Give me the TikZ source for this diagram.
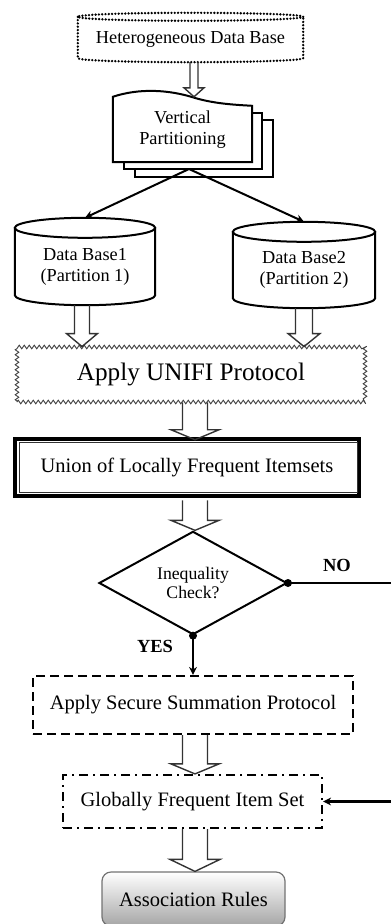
\documentclass[tikz,border=0pt]{standalone}
\usepackage{fontspec}
\setmainfont{Liberation Serif}
\usetikzlibrary{arrows.meta}
\usetikzlibrary{calc}
\usetikzlibrary{shapes.geometric}
\usetikzlibrary{decorations.pathmorphing}
\usetikzlibrary{backgrounds}

% cylinder outline round a named node: node, lid radius
\newcommand{\drum}[3][]{%
  \draw[#1] let \p1=(#2.north west), \p2=(#2.south east), \n1={(\x2-\x1)/2} in
    ({(\x1+\x2)/2},{\y1+#3pt}) ellipse [x radius=\n1, y radius=#3pt]
    (\x1,{\y1+#3pt}) -- (\x1,\y2) arc [start angle=180, end angle=360, x radius=\n1, y radius=#3pt]
    -- (\x2,{\y1+#3pt});
}
% hollow block arrow: x, from, to, shaft half width, head half width, head length
\newcommand{\fatarrow}[6]{%
  \draw[fat] let \p1=#2, \p2=#3 in
    ({#1pt-#4pt},\y1) -- ({#1pt-#4pt},{\y2+#6pt}) -- ({#1pt-#5pt},{\y2+#6pt}) -- (#1pt,\y2)
    -- ({#1pt+#5pt},{\y2+#6pt}) -- ({#1pt+#4pt},{\y2+#6pt}) -- ({#1pt+#4pt},\y1);
}

\tikzset{
  lbl/.style={font=\fontsize{18.3}{21}\selectfont, align=center, inner sep=0pt},
  wide/.style={font=\fontsize{20.5}{24}\selectfont, align=center, inner sep=0pt},
  hetline/.style={line width=2.6pt, dash pattern=on 0pt off 3.3pt, line cap=round},
  dbline/.style={line width=2pt},
  doc/.style={draw, fill=white, line width=2pt},
  flow/.style={line width=2pt, -{Stealth[length=8pt,width=8pt]}},
  fat/.style={draw=black!80, line width=1.4pt},
  zig/.style={draw=black!75, line width=0.9pt, decorate,
    decoration={zigzag, segment length=5pt, amplitude=1.8pt},
    font=\fontsize{25.2}{28}\selectfont, inner sep=0pt},
  unionbox/.style={wide, draw, line width=4.5pt, minimum width=344, minimum height=57},
  check/.style={diamond, draw, line width=2pt, minimum width=188, minimum height=92,
    inner sep=0pt, font=\fontsize{17.7}{19}\selectfont, align=center},
  dashbox/.style={wide, draw, line width=2.2pt, dash pattern=on 9pt off 5pt},
  dotdashbox/.style={wide, draw, line width=2.2pt, dash pattern=on 9pt off 5pt on 2pt off 5pt},
  rulebox/.style={wide, draw=black!55, line width=1.2pt, rounded corners=9pt,
    top color=white, bottom color=black!35},
  yn/.style={font=\bfseries\fontsize{18.5}{20}\selectfont, inner sep=0pt},
}

\begin{document}
\begin{tikzpicture}[x=1pt, y=-1pt]
    \useasboundingbox (0,0) rectangle (391,924);
    \clip (0,0) rectangle (391,924);

    % source data base
    \node[lbl, minimum width=225, minimum height=37] (het) at (190.5,39.5) {Heterogeneous Data Base};
    \drum[hetline]{het}{4}

    % vertical partitioning (stacked documents)
    \node[lbl, minimum width=139, minimum height=65] (vp) at (182.5,129.5) {Vertical\\Partitioning};
    \begin{scope}[on background layer]
        \draw[doc] ($(vp.north west)+(22,23)$) rectangle ($(vp.south east)+(21,15)$);
        \draw[doc] ($(vp.north west)+(11,16)$) rectangle ($(vp.south east)+(10,7)$);
        \draw[doc] (vp.north west) .. controls +(27,-9) and +(-25,-8) .. ($(vp.north)+(12,1)$)
            .. controls +(20,6) and +(-17,-1) .. ($(vp.north east)+(0,9)$)
            -- (vp.south east) -- (vp.south west) -- cycle;
    \end{scope}
    \fatarrow{194}{($(het.south)+(0,4)$)}{(vp.north)}{4}{10}{9}

    % partitions
    \node[lbl, minimum width=140, minimum height=57] (db1) at (85,266.5) {Data Base1\\(Partition 1)};
    \drum[dbline]{db1}{10}
    \node[lbl, minimum width=142, minimum height=56] (db2) at (304,270) {Data Base2\\(Partition 2)};
    \drum[dbline]{db2}{10}
    \coordinate (vpfoot) at (189,169);
    \draw[flow] (vpfoot) -- ($(db1.north)+(0,-20)$);
    \draw[flow] (vpfoot) -- ($(db2.north)+(0,-20)$);

    % protocols
    \node[zig, minimum width=348, minimum height=55] (unifi) at (191,374.5) {Apply UNIFI Protocol};
    \fatarrow{82}{($(db1.south)+(0,10)$)}{(unifi.north)}{7.5}{15.5}{13}
    \fatarrow{304}{($(db2.south)+(0,10)$)}{(unifi.north)}{8.5}{16}{13}

    \node[unionbox] (union) at (187,467.5) {Union of Locally Frequent Itemsets};
    \draw[line width=1.2pt, black!80] ($(union.north west)+(7,6)$) rectangle ($(union.south east)+(-4,-6)$);
    \fatarrow{195}{(unifi.south)}{($(union.north)+(0,3)$)}{12.5}{24}{10}

    % decision
    \node[check] (ineq) at (193,583) {Inequality\\Check?};
    \fatarrow{195}{($(union.south)+(0,2)$)}{(ineq.north)}{12.5}{24}{10}
    \node[yn] (no) at (337,565) {NO};
    \node[yn] (yes) at (155,646) {YES};

    \node[dashbox, minimum width=320, minimum height=58] (secure) at (193,705) {Apply Secure Summation Protocol};
    \draw[flow] (ineq.south) -- (secure.north);

    \node[dotdashbox, minimum width=259, minimum height=53] (glob) at (192.5,801.5) {Globally Frequent Item Set};
    \fatarrow{195}{(secure.south)}{(glob.north)}{12.5}{24}{10}
    \coordinate (loop) at (420,583);
    \draw[flow, line width=2.4pt] (ineq.east) -- (loop) |- (glob.east);
    \fill (ineq.east) circle (4pt);
    \fill (ineq.south) circle (4pt);

    % result
    \node[rulebox, minimum width=183, minimum height=54] (assoc) at (193.5,899) {Association Rules};
    \fatarrow{195}{(glob.south)}{(assoc.north)}{12.5}{25}{12}
\end{tikzpicture}
\end{document}
